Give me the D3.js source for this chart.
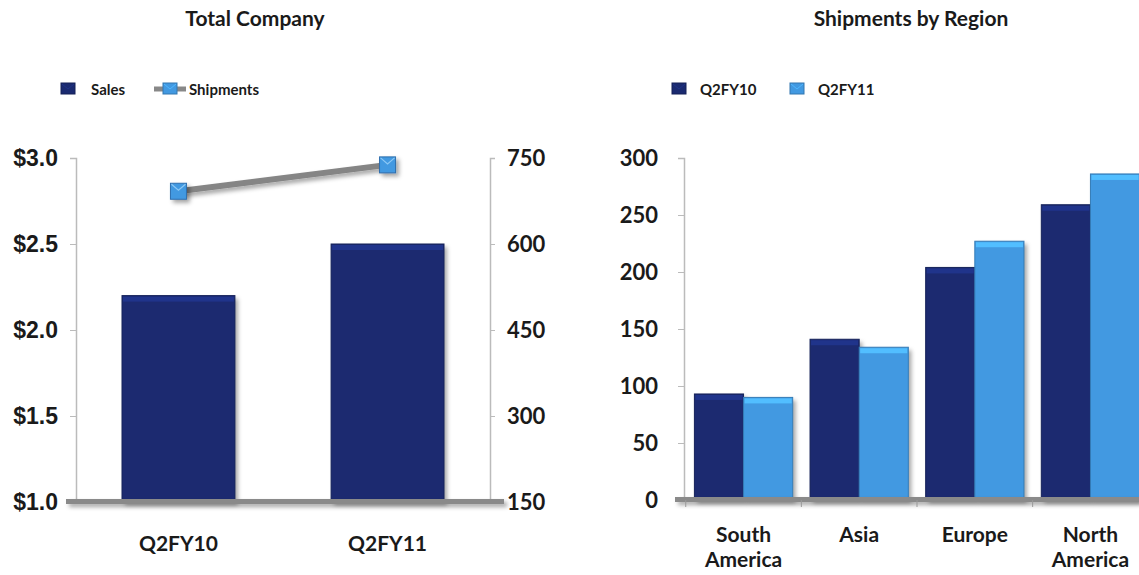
<!DOCTYPE html>
<html>
<head>
<meta charset="utf-8">
<script src="https://cdn.jsdelivr.net/npm/d3@7"></script>
<style>
  body { margin: 0; background: #fff; }
  text { font-family: Lato, "Open Sans", sans-serif; font-weight: bold; fill: #1a1a1a; }
</style>
</head>
<body>
<div id="chart"></div>
<script>
// data
var quarters = ["Q2FY10", "Q2FY11"];
var sales = [2.2, 2.5];
var shipments = [692, 738];
var salesTicks = [1.0, 1.5, 2.0, 2.5, 3.0];
var shipTicks = [150, 300, 450, 600, 750];

var regions = ["South America", "Asia", "Europe", "North America"];
var ship10 = [93, 141, 204, 259];
var ship11 = [90, 134, 227, 286];
var regionTicks = [0, 50, 100, 150, 200, 250, 300];

var dark = "#1a2a70", light = "#4299e1";

var svg = d3.select("#chart").append("svg")
  .attr("width", 1139).attr("height", 575);

var defs = svg.append("defs");
var f = defs.append("filter").attr("id", "shadow").attr("filterUnits", "userSpaceOnUse")
  .attr("x", 0).attr("y", 0).attr("width", 1139).attr("height", 575);
f.append("feDropShadow").attr("dx", 3).attr("dy", 3).attr("stdDeviation", 2)
  .attr("flood-color", "#000").attr("flood-opacity", 0.35);

function bevelBar(g, x, y, w, h, col) {
  g.append("rect").attr("x", x).attr("y", y).attr("width", w).attr("height", h)
    .attr("fill", col).attr("filter", "url(#shadow)");
  g.append("rect").attr("x", x + 1).attr("y", y + 1).attr("width", w - 2).attr("height", 5)
    .attr("fill", d3.color(col).brighter(0.6));
  g.append("rect").attr("x", x).attr("y", y).attr("width", w).attr("height", h)
    .attr("fill", "none").attr("stroke", d3.color(col).darker(0.6)).attr("stroke-width", 1);
}

function swatch(g, x, y, col) {
  g.append("rect").attr("x", x).attr("y", y).attr("width", 14).attr("height", 11)
    .attr("fill", col).attr("stroke", d3.color(col).darker(0.7)).attr("stroke-width", 1);
  g.append("path").attr("d", "M" + (x + 1) + "," + (y + 1) + "L" + (x + 7) + "," + (y + 6) + "L" + (x + 13) + "," + (y + 1))
    .attr("fill", "none").attr("stroke", d3.color(col).brighter(0.5)).attr("stroke-width", 1);
}

// ---------- Total Company ----------
var left = svg.append("g");
var yL = d3.scaleLinear().domain([1.0, 3.0]).range([502, 158]);
var yR = d3.scaleLinear().domain([150, 750]).range([502, 158]);
var xL = d3.scaleBand().domain(quarters).range([76, 490]).paddingInner(0.46).paddingOuter(0.22);

left.append("text").attr("x", 255).attr("y", 26).attr("text-anchor", "middle")
  .style("font-size", "21px").text("Total Company");

// legend
swatch(left, 61, 83, dark);
left.append("text").attr("x", 91).attr("y", 95).style("font-size", "15px").text("Sales");
left.append("line").attr("x1", 154).attr("x2", 186).attr("y1", 89).attr("y2", 89)
  .attr("stroke", "#888").attr("stroke-width", 5);
swatch(left, 163, 83, light);
left.append("text").attr("x", 189).attr("y", 95).style("font-size", "15px").text("Shipments");

var axL = left.append("g").attr("transform", "translate(76,0)")
  .call(d3.axisLeft(yL).tickValues(salesTicks).tickSize(6).tickPadding(12)
    .tickFormat(function(d) { return "$" + d3.format(".1f")(d); }));
var axR = left.append("g").attr("transform", "translate(490,0)")
  .call(d3.axisRight(yR).tickValues(shipTicks).tickSize(5).tickPadding(12));
[axL, axR].forEach(function(a) {
  a.select(".domain").attr("stroke", "#bbb").attr("stroke-width", 1.5);
  a.selectAll(".tick line").attr("stroke", "#bbb");
  a.selectAll("text").style("font-size", "23px").style("font-family", "'Liberation Sans', Arial, sans-serif");
});
axR.selectAll("text").style("font-family", "Lato, sans-serif").style("font-size", "22px");

quarters.forEach(function(q, i) {
  bevelBar(left, xL(q), yL(sales[i]), xL.bandwidth(), yL(1.0) - yL(sales[i]), dark);
});

left.append("rect").attr("x", 66).attr("width", 438).attr("y", 499).attr("height", 5)
  .attr("fill", "#8a8a8a").attr("filter", "url(#shadow)");

left.append("g").selectAll("text").data(quarters).enter().append("text")
  .attr("x", function(d) { return xL(d) + xL.bandwidth() / 2; })
  .attr("y", 551).attr("text-anchor", "middle").style("font-size", "21px")
  .text(function(d) { return d; });

var line = d3.line()
  .x(function(d, i) { return xL(quarters[i]) + xL.bandwidth() / 2; })
  .y(function(d) { return yR(d); });
left.append("path").datum(shipments).attr("d", line)
  .attr("fill", "none").attr("stroke", "#858585").attr("stroke-width", 6)
  .attr("filter", "url(#shadow)");
shipments.forEach(function(v, i) {
  var cx = xL(quarters[i]) + xL.bandwidth() / 2, cy = yR(v);
  left.append("rect").attr("x", cx - 8).attr("y", cy - 8).attr("width", 16).attr("height", 16)
    .attr("fill", light).attr("stroke", "#2f6fae").attr("stroke-width", 1).attr("filter", "url(#shadow)");
  left.append("path").attr("d", "M" + (cx - 7) + "," + (cy - 7) + "L" + cx + "," + (cy - 1) + "L" + (cx + 7) + "," + (cy - 7))
    .attr("fill", "none").attr("stroke", "#8cc8f5").attr("stroke-width", 1.2);
});

// ---------- Shipments by Region ----------
var right = svg.append("g");
var y2 = d3.scaleLinear().domain([0, 300]).range([500, 158]);
var x2 = d3.scaleBand().domain(regions).range([684, 1150]).paddingInner(0.15).paddingOuter(0.09);
var xs = d3.scaleBand().domain(["Q2FY10", "Q2FY11"]).range([0, x2.bandwidth()]);

right.append("text").attr("x", 911).attr("y", 26).attr("text-anchor", "middle")
  .style("font-size", "21px").text("Shipments by Region");

swatch(right, 672, 83, dark);
right.append("text").attr("x", 700).attr("y", 95).style("font-size", "15px").text("Q2FY10");
swatch(right, 790, 83, light);
right.append("text").attr("x", 818).attr("y", 95).style("font-size", "15px").text("Q2FY11");

var ax2 = right.append("g").attr("transform", "translate(684,0)")
  .call(d3.axisLeft(y2).tickValues(regionTicks).tickSize(6).tickPadding(20));
ax2.select(".domain").attr("stroke", "#bbb").attr("stroke-width", 1.5);
ax2.selectAll(".tick line").attr("stroke", "#bbb");
ax2.selectAll("text").style("font-size", "22px");

regions.forEach(function(r, i) {
  bevelBar(right, x2(r) + xs("Q2FY10"), y2(ship10[i]), xs.bandwidth(), y2(0) - y2(ship10[i]), dark);
  bevelBar(right, x2(r) + xs("Q2FY11"), y2(ship11[i]), xs.bandwidth(), y2(0) - y2(ship11[i]), light);
});

right.append("rect").attr("x", 675).attr("width", 464).attr("y", 497).attr("height", 5)
  .attr("fill", "#8a8a8a").attr("filter", "url(#shadow)");
var step = x2.step();
right.append("g").selectAll("line").data(regions).enter().append("line")
  .attr("x1", function(d) { return x2(d) - step * 0.075; })
  .attr("x2", function(d) { return x2(d) - step * 0.075; })
  .attr("y1", 500).attr("y2", 507).attr("stroke", "#999");

var lab = right.append("g").selectAll("text").data(regions).enter().append("text")
  .attr("x", function(d) { return x2(d) + x2.bandwidth() / 2; })
  .attr("y", 542).attr("text-anchor", "middle").style("font-size", "21px");
lab.each(function(d) {
  var words = d.split(" ");
  var t = d3.select(this);
  words.forEach(function(w, k) {
    t.append("tspan").attr("x", t.attr("x")).attr("dy", k === 0 ? 0 : 25).text(w);
  });
});
</script>
</body>
</html>
